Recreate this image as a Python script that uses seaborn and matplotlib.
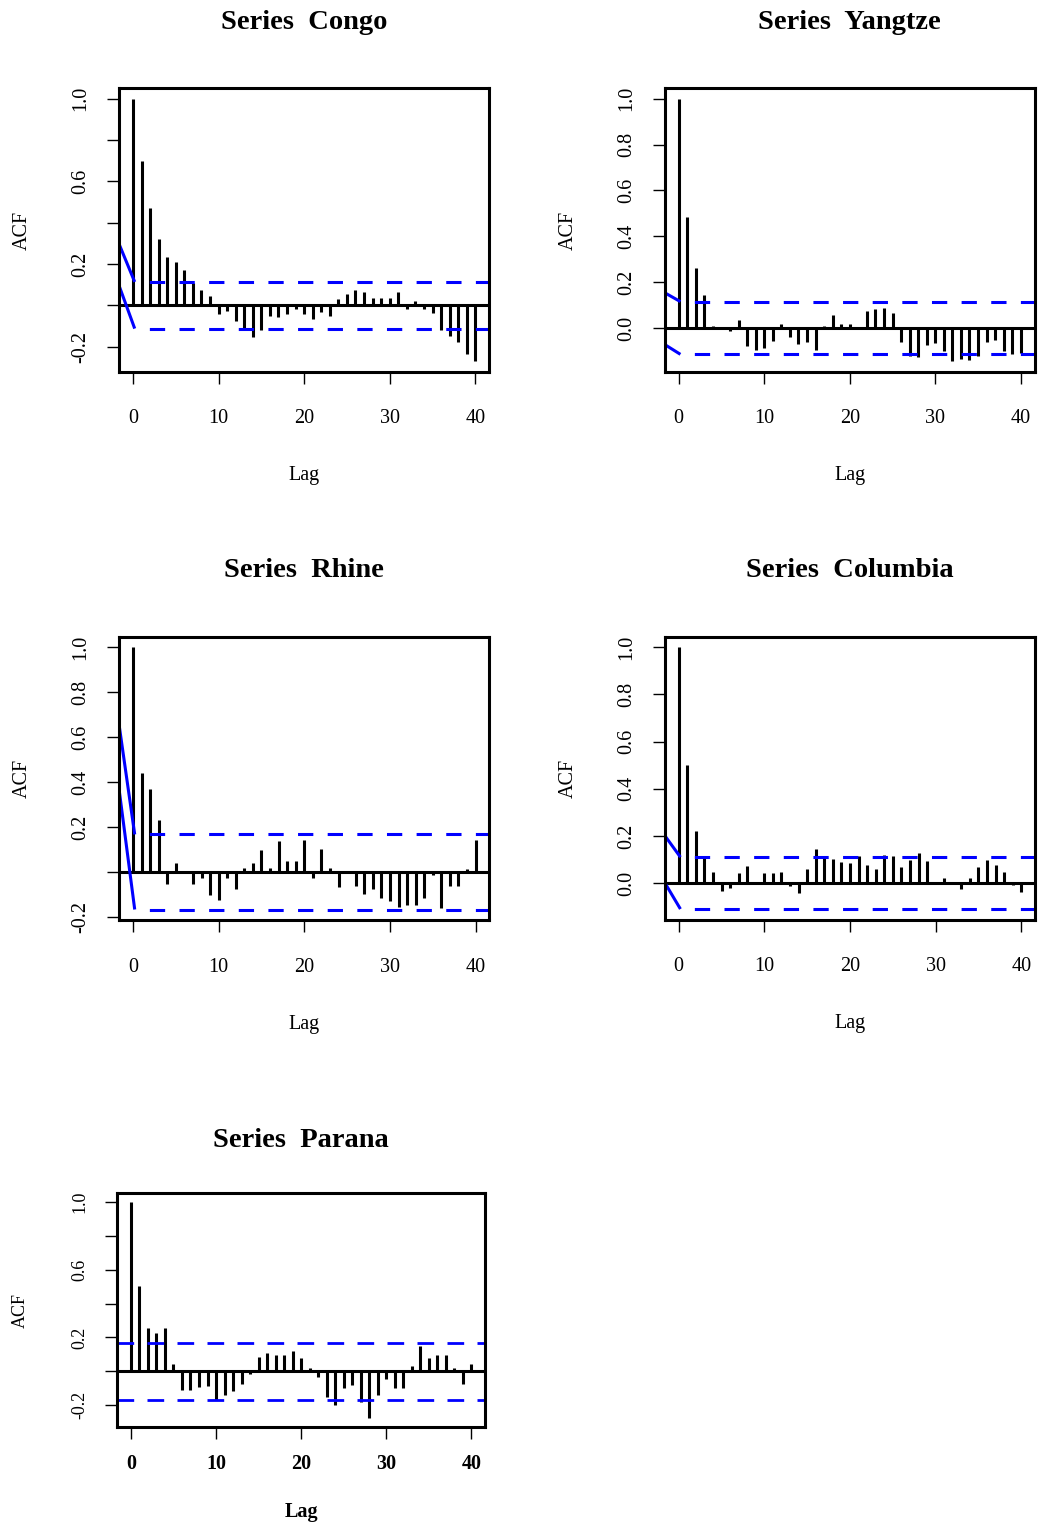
import numpy as np
import seaborn as sns
import matplotlib.pyplot as plt

lags = np.arange(41)

congo = [1.0, 0.698, 0.472, 0.321, 0.234, 0.208, 0.173, 0.108, 0.076, 0.044,
         -0.042, -0.029, -0.074, -0.110, -0.153, -0.118, -0.050, -0.057, -0.040, -0.020,
         -0.040, -0.068, -0.032, -0.052, 0.029, 0.053, 0.073, 0.065, 0.037, 0.037,
         0.037, 0.065, -0.016, 0.019, -0.016, -0.036, -0.121, -0.149, -0.178, -0.237, -0.271]
yangtze = [1.0, 0.483, 0.262, 0.143, 0.010, 0.003, -0.015, 0.033, -0.077, -0.095,
           -0.087, -0.055, 0.017, -0.039, -0.070, -0.061, -0.095, 0.010, 0.058, 0.017,
           0.017, 0.004, 0.073, 0.083, 0.087, 0.066, -0.063, -0.124, -0.127, -0.073,
           -0.065, -0.102, -0.145, -0.135, -0.141, -0.124, -0.063, -0.054, -0.102, -0.114, -0.109]
rhine = [1.0, 0.441, 0.369, 0.233, -0.052, 0.040, 0.003, -0.052, -0.027, -0.101,
         -0.123, -0.027, -0.076, 0.018, 0.040, 0.096, 0.018, 0.137, 0.050, 0.050,
         0.144, -0.027, 0.104, 0.018, -0.067, 0.002, -0.061, -0.098, -0.074, -0.116,
         -0.131, -0.156, -0.145, -0.148, -0.116, -0.012, -0.160, -0.061, -0.061, 0.015, 0.144]
columbia = [1.0, 0.501, 0.220, 0.107, 0.049, -0.035, -0.020, 0.042, 0.072, 0.003,
            0.042, 0.042, 0.049, -0.013, -0.042, 0.058, 0.143, 0.110, 0.103, 0.089,
            0.085, 0.113, 0.075, 0.061, 0.120, 0.113, 0.068, 0.099, 0.127, 0.092,
            0.002, 0.021, 0.002, -0.024, 0.021, 0.068, 0.099, 0.075, 0.045, -0.010, -0.038]
parana = [1.0, 0.501, 0.254, 0.227, 0.254, 0.043, -0.110, -0.110, -0.091, -0.085,
          -0.170, -0.138, -0.118, -0.075, -0.016, 0.087, 0.107, 0.097, 0.097, 0.122,
          0.079, 0.020, -0.036, -0.154, -0.197, -0.099, -0.079, -0.183, -0.276, -0.138,
          -0.045, -0.099, -0.099, 0.034, 0.148, 0.079, 0.097, 0.097, 0.018, -0.075, 0.043]

names = ["Congo", "Yangtze", "Rhine", "Columbia", "Parana"]
series = [congo, yangtze, rhine, columbia, parana]
conf = [0.113, 0.115, 0.167, 0.11, 0.17]
# odd solid blue start of the bounds at the left edge (upper, lower)
bound_start = [(0.294, 0.092), (0.153, -0.073), (0.648, 0.36), (0.2, 0.0), None]

yticks_all = [-0.2, 0.0, 0.2, 0.4, 0.6, 0.8, 1.0]
ylabels = [
    ["-0.2", "", "0.2", "", "0.6", "", "1.0"],
    ["-0.2", "0.0", "0.2", "0.4", "0.6", "0.8", "1.0"],
    ["-0.2", "", "0.2", "0.4", "0.6", "0.8", "1.0"],
    ["-0.2", "0.0", "0.2", "0.4", "0.6", "0.8", "1.0"],
    ["-0.2", "", "0.2", "", "0.6", "", "1.0"],
]

# axes boxes in pixels: left, right, top, bottom
W, H = 1038, 1525
boxes = [(119.3, 489, 88.3, 371.7), (665, 1034.5, 88.3, 371.7),
         (119.3, 489.3, 636.7, 920), (665, 1035, 636.7, 919.5),
         (117.3, 485, 1193.3, 1426.7)]

sns.set_theme(style="ticks")
plt.rcParams['font.family'] = ['Liberation Serif', 'DejaVu Serif']
plt.rcParams['text.color'] = 'black'
plt.rcParams['axes.labelcolor'] = 'black'
plt.rcParams['xtick.color'] = 'black'
plt.rcParams['ytick.color'] = 'black'

fig = plt.figure(figsize=(W / 100, H / 100), dpi=100)

for i, (name, acf, ci, start, box) in enumerate(zip(names, series, conf, bound_start, boxes)):
    l, r, t, b = box
    wpx, hpx = r - l, b - t
    ax = fig.add_axes([l / W, 1 - b / H, wpx / W, hpx / H])
    small = (i == 4)

    ax.vlines(lags, 0, acf, color='black', lw=2.2, capstyle='butt')
    ax.axhline(0, color='black', lw=2.2)

    xlo, xhi = -1.6, 41.6
    if start is None:
        ax.plot([xlo, xhi], [ci, ci], color='blue', lw=2.0, linestyle=(0, (6, 4.8)))
        ax.plot([xlo, xhi], [-ci, -ci], color='blue', lw=2.0, linestyle=(0, (6, 4.8)))
    else:
        for s, c in zip(start, (ci, -ci)):
            ax.plot([xlo, 0.2], [s, c], color='blue', lw=2.2, solid_capstyle='butt')
            ax.plot([0.2, xhi], [c, c], color='blue', lw=2.2, linestyle=(5, (5, 4.7)))

    lo = min(min(acf), -ci)
    pad = 0.04 * (1 - lo)
    ax.set_ylim(lo - pad, 1 + pad)
    ax.set_xlim(xlo, xhi)

    yt = [v for v in yticks_all if lo - pad <= v <= 1 + pad]
    yl = [lab for v, lab in zip(yticks_all, ylabels[i]) if lo - pad <= v <= 1 + pad]
    ax.set_yticks(yt)
    ax.set_yticklabels(yl, rotation=90, va='center', fontsize=13 if small else 14.5)
    ax.set_xticks([0, 10, 20, 30, 40])
    ax.set_xticklabels(["0", "10", "20", "30", "40"], fontsize=14.5,
                       fontweight='bold' if small else 'normal')
    ax.tick_params(axis='both', direction='out', length=8.6, width=1, color='black')
    ax.tick_params(axis='x', pad=11 if small else 18.5)
    ax.tick_params(axis='y', pad=12)

    for sp in ax.spines.values():
        sp.set_visible(True)
        sp.set_linewidth(2.2)
        sp.set_color('black')
    ax.grid(False)

    lag_off = 85 if small else 104
    ax.set_xlabel("Lag", fontsize=14.5, va='center', fontweight='bold' if small else 'normal')
    ax.xaxis.set_label_coords(0.5, -lag_off / hpx)
    ax.set_ylabel("ACF", fontsize=13 if small else 14.5, va='center')
    ax.yaxis.set_label_coords(-97 / wpx, 0.5)

    title_off = 53 if small else 66
    ax.text(0.5, 1 + title_off / hpx, "Series  " + name, transform=ax.transAxes,
            ha='center', va='center', fontsize=20.5, fontweight='bold')

fig.savefig("out.png", dpi=100)
